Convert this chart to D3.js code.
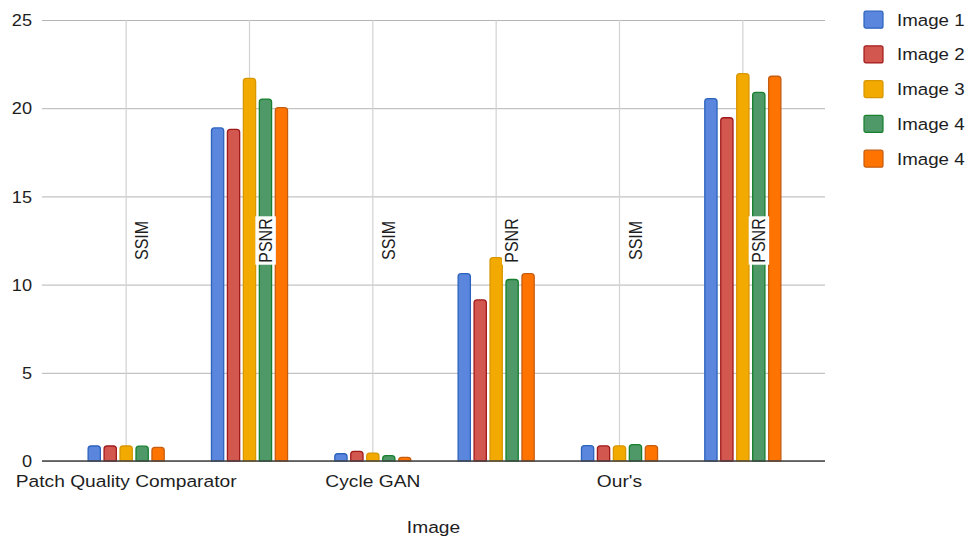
<!DOCTYPE html>
<html>
<head>
<meta charset="utf-8">
<script src="https://cdn.jsdelivr.net/npm/d3@7"></script>
<style>
  html, body { margin: 0; padding: 0; background: #fff; }
  svg { display: block; font-family: "Liberation Sans", Arial, sans-serif; }
</style>
</head>
<body>
<svg id="chart" width="968" height="540"></svg>
<script>
// Methods compared, and the two metrics reported for each
const methods = ["Patch Quality Comparator", "Cycle GAN", "Our's"];
const metrics = ["SSIM", "PSNR"];

// One series per test image; values in column order
// [PQC SSIM, PQC PSNR, CycleGAN SSIM, CycleGAN PSNR, Ours SSIM, Ours PSNR]
const seriesNames = ["Image 1", "Image 2", "Image 3", "Image 4", "Image 4"];
const image1 = [0.85, 18.88, 0.41, 10.62, 0.87, 20.54];
const image2 = [0.85, 18.80, 0.55, 9.13, 0.86, 19.46];
const image3 = [0.85, 21.69, 0.45, 11.53, 0.86, 21.96];
const image4 = [0.84, 20.52, 0.30, 10.29, 0.93, 20.90];
const image4b = [0.77, 20.03, 0.21, 10.62, 0.87, 21.81];
const yTicks = [0, 5, 10, 15, 20, 25];
const xTitle = "Image";

const seriesValues = [image1, image2, image3, image4, image4b];
const fills = ["#5a87dd", "#d2574f", "#f2a900", "#4f9867", "#ff7400"];
const strokes = ["#2c62bd", "#a11a1a", "#d89600", "#16802f", "#c65c10"];

// Flattened columns: each method contributes an SSIM and a PSNR column
const columns = [];
methods.forEach((m, i) => metrics.forEach((k, j) => columns.push({ method: m, metric: k, idx: i * 2 + j })));

const svg = d3.select("#chart");
const plot = { left: 42, right: 825, top: 20, bottom: 461 };
const stretch = 1.1;   // horizontal text stretch

const y = d3.scaleLinear().domain([0, 25]).range([plot.bottom, plot.top]);
const x0 = d3.scaleBand().domain(columns.map(c => c.idx)).range([64.5, 804.5]).padding(0);
const groupW = x0.bandwidth() * 0.625;
const x1 = d3.scaleBand().domain(d3.range(seriesNames.length)).range([-groupW / 2, groupW / 2]).paddingInner(0.17);

// Horizontal grid lines from the y axis
const yAxis = d3.axisLeft(y).tickValues(yTicks).tickSize(-(plot.right - plot.left)).tickPadding(0);
const gy = svg.append("g").attr("transform", `translate(${plot.left},0)`).call(yAxis);
gy.select(".domain").remove();
gy.selectAll(".tick line").attr("stroke", "#b5b5b5").attr("stroke-width", 1);
gy.selectAll(".tick text").remove();
gy.selectAll(".tick").append("g")
  .attr("transform", `translate(-10,0) scale(${stretch},1)`)
  .append("text")
  .attr("text-anchor", "end").attr("dy", "0.35em")
  .attr("font-size", 16.5).attr("fill", "#1e1e1e")
  .text(d => d);

// Vertical grid line through each column centre
svg.append("g").selectAll("line").data(columns).join("line")
  .attr("x1", d => x0(d.idx) + x0.bandwidth() / 2)
  .attr("x2", d => x0(d.idx) + x0.bandwidth() / 2)
  .attr("y1", plot.top).attr("y2", plot.bottom)
  .attr("stroke", "#d2d2d2").attr("stroke-width", 1.2);

// Bars with rounded top corners
function barPath(x, w, yTop, yBase) {
  const h = yBase - yTop;
  const r = Math.min(3, h, w / 2);
  return `M${x},${yBase} L${x},${yTop + r} Q${x},${yTop} ${x + r},${yTop} ` +
         `L${x + w - r},${yTop} Q${x + w},${yTop} ${x + w},${yTop + r} L${x + w},${yBase} Z`;
}
const bars = [];
columns.forEach(c => seriesValues.forEach((vals, s) => bars.push({ col: c, s, v: vals[c.idx] })));
svg.append("g").selectAll("path").data(bars).join("path")
  .attr("d", d => {
    const cx = x0(d.col.idx) + x0.bandwidth() / 2;
    return barPath(cx + x1(d.s) + 0.5, x1.bandwidth() - 1, y(d.v), plot.bottom);
  })
  .attr("fill", d => fills[d.s])
  .attr("stroke", d => strokes[d.s])
  .attr("stroke-width", 1.3);

// Baseline
svg.append("line")
  .attr("x1", plot.left).attr("x2", plot.right)
  .attr("y1", y(0)).attr("y2", y(0))
  .attr("stroke", "#444").attr("stroke-width", 1.4);

// Metric names, rotated, on a white tab beside each column's grid line
const metricG = svg.append("g").selectAll("g").data(columns).join("g")
  .attr("transform", d => `translate(${x0(d.idx) + x0.bandwidth() / 2 + 22},${(plot.top + plot.bottom) / 2}) scale(1.2,1) rotate(-90)`);
metricG.append("text")
  .attr("text-anchor", "middle")
  .attr("font-size", 16).attr("fill", "#1e1e1e")
  .text(d => d.metric)
  .each(function () {
    const b = this.getBBox();
    d3.select(this.parentNode).insert("rect", "text")
      .attr("x", b.x - 2).attr("y", b.y + 1).attr("width", b.width + 4).attr("height", b.height - 1)
      .attr("fill", "#fff");
  });

// Method names under the SSIM column of each pair
svg.append("g").selectAll("g").data(columns.filter(c => c.metric === "SSIM")).join("g")
  .attr("transform", d => `translate(${x0(d.idx) + x0.bandwidth() / 2},487) scale(1.13,1)`)
  .append("text")
  .attr("text-anchor", "middle").attr("font-size", 17).attr("fill", "#1e1e1e")
  .text(d => d.method);

// Axis title
svg.append("g").attr("transform", `translate(${(plot.left + plot.right) / 2},533) scale(1.13,1)`)
  .append("text").attr("text-anchor", "middle").attr("font-size", 17).attr("fill", "#1e1e1e")
  .text(xTitle);

// Legend
const leg = svg.append("g").selectAll("g").data(seriesNames).join("g")
  .attr("transform", (d, i) => `translate(864,${19.7 + i * 34.75})`);
leg.append("rect")
  .attr("x", 0).attr("y", -8.5).attr("width", 19).attr("height", 17).attr("rx", 2)
  .attr("fill", (d, i) => fills[i]).attr("stroke", (d, i) => strokes[i]).attr("stroke-width", 1.2);
leg.append("g").attr("transform", `translate(33,0) scale(${stretch},1)`)
  .append("text").attr("dy", "0.35em").attr("font-size", 17).attr("fill", "#1e1e1e")
  .text(d => d);
</script>
</body>
</html>
